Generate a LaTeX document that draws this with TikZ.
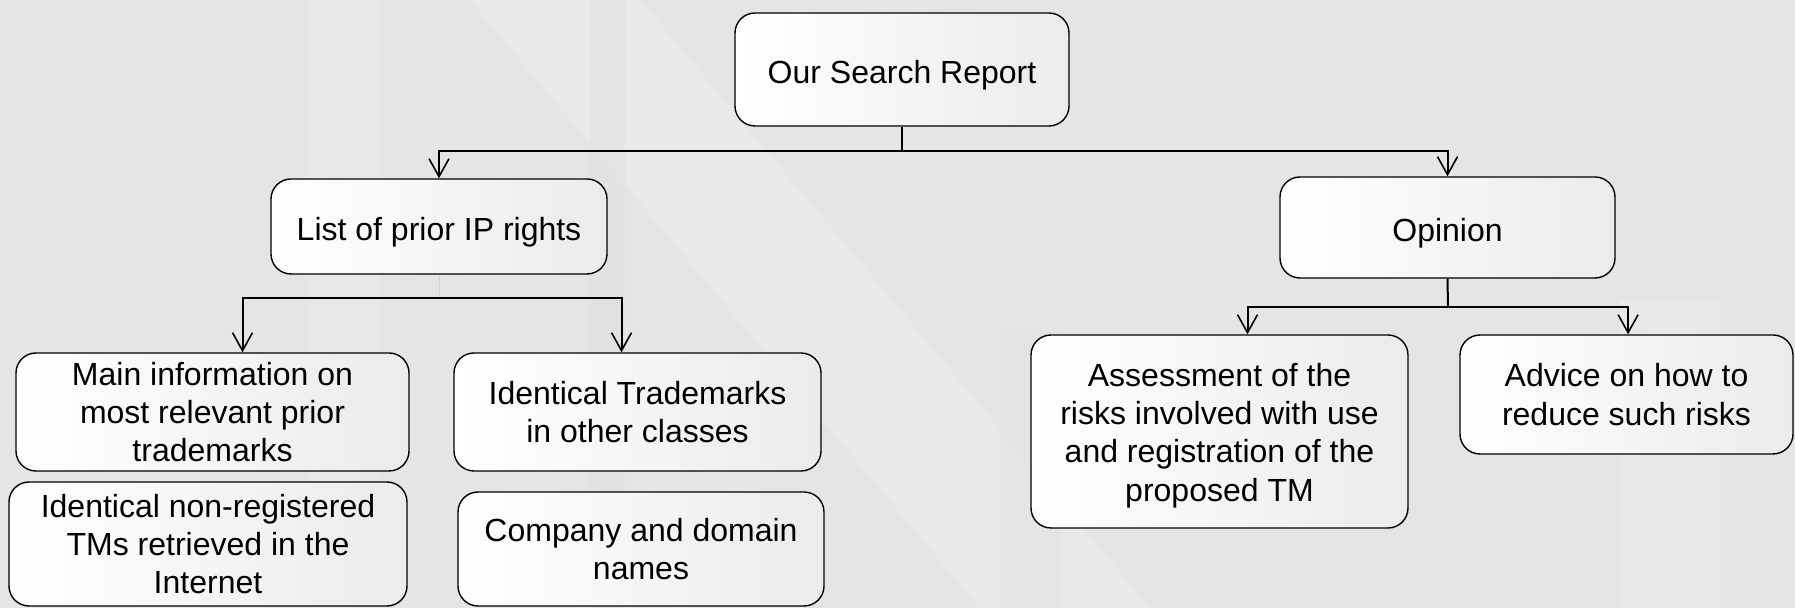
\documentclass[tikz,border=0pt]{standalone}
\usepackage{fontspec}
\setmainfont{Liberation Sans}
\usetikzlibrary{arrows.meta}
\definecolor{bgbase}{RGB}{229,229,229}
\definecolor{bglight}{RGB}{236,236,236}
\definecolor{bgdark}{RGB}{224,224,224}
\definecolor{boxright}{RGB}{235,235,235}
\tikzset{
  box/.style={draw=black, line width=0.7pt, rounded corners=10pt,
    left color=white, right color=boxright, align=center,
    font=\fontsize{16}{19.2}\selectfont, inner sep=2pt},
  oneline/.style={text height=17pt, text depth=3.4pt},
  conn/.style={draw=black, line width=1pt},
  arr/.style={conn, -{Straight Barb[length=9pt,width=10pt,line width=0.8pt]}},
  faint/.style={draw=black!18, line width=0.4pt}
}
\begin{document}
\begin{tikzpicture}[x=0.5pt,y=-0.5pt]
% background
\fill[bgbase] (0,0) rectangle (1795,608);
\fill[bglight,opacity=0.7] (470,0) -- (640,0) -- (1150,608) -- (980,608) -- cycle;
\fill[bglight,opacity=0.5] (310,0) -- (380,0) -- (380,608) -- (310,608) -- cycle;
\fill[bgdark,opacity=0.5] (590,0) -- (625,0) -- (625,608) -- (590,608) -- cycle;
\fill[bglight,opacity=0.6] (1620,300) -- (1720,300) -- (1720,608) -- (1620,608) -- cycle;
\fill[bgdark,opacity=0.4] (1000,330) -- (1060,330) -- (1060,608) -- (1000,608) -- cycle;
\useasboundingbox (0,0) rectangle (1795,608);

% nodes
\node[box, oneline, minimum width=167pt, minimum height=56.5pt] (top) at (902,69.5) {Our Search Report};
\node[box, oneline, minimum width=168pt, minimum height=47.5pt] (list) at (439,226.5) {List of prior IP rights};
\node[box, oneline, minimum width=167.5pt, minimum height=50.5pt] (opinion) at (1447.5,227.5) {Opinion};
\node[box, minimum width=196.5pt, minimum height=59pt] (main) at (212.5,412) {Main information on\\most relevant prior\\trademarks};
\node[box, minimum width=199pt, minimum height=62pt] (nonreg) at (208,544) {Identical non-registered\\TMs retrieved in the\\Internet};
\node[box, minimum width=183.5pt, minimum height=59pt] (ident) at (637.5,412) {Identical Trademarks\\in other classes};
\node[box, minimum width=183pt, minimum height=57pt] (company) at (641,549) {Company and domain\\names};
\node[box, minimum width=188.5pt, minimum height=96.5pt] (assess) at (1219.5,431.5) {\raisebox{-2.3pt}[\height][\depth]{\begin{tabular}{@{}c@{}}Assessment of the\\risks involved with use\\and registration of the\\proposed TM\end{tabular}}};
\node[box, minimum width=166.5pt, minimum height=59.5pt] (advice) at (1626.5,394.5) {Advice on how to\\reduce such risks};

% connectors
\coordinate (j1) at (902,151);
\coordinate (j2) at (439,298);
\coordinate (j3) at (1448,307);
\draw[conn] (top.south) -- (j1);
\draw[arr] (j1) -| (list.north);
\draw[arr] (j1) -| (opinion.north);
\draw[faint] (list.south) -- (j2);
\draw[arr] (j2) -| ([xshift=15pt]main.north);
\draw[arr] (j2) -| ([xshift=-8pt]ident.north);
\draw[conn] (opinion.south) -- (j3);
\draw[arr] (j3) -| ([xshift=14pt]assess.north);
\draw[arr] (j3) -| ([xshift=0.8pt]advice.north);
\end{tikzpicture}
\end{document}
